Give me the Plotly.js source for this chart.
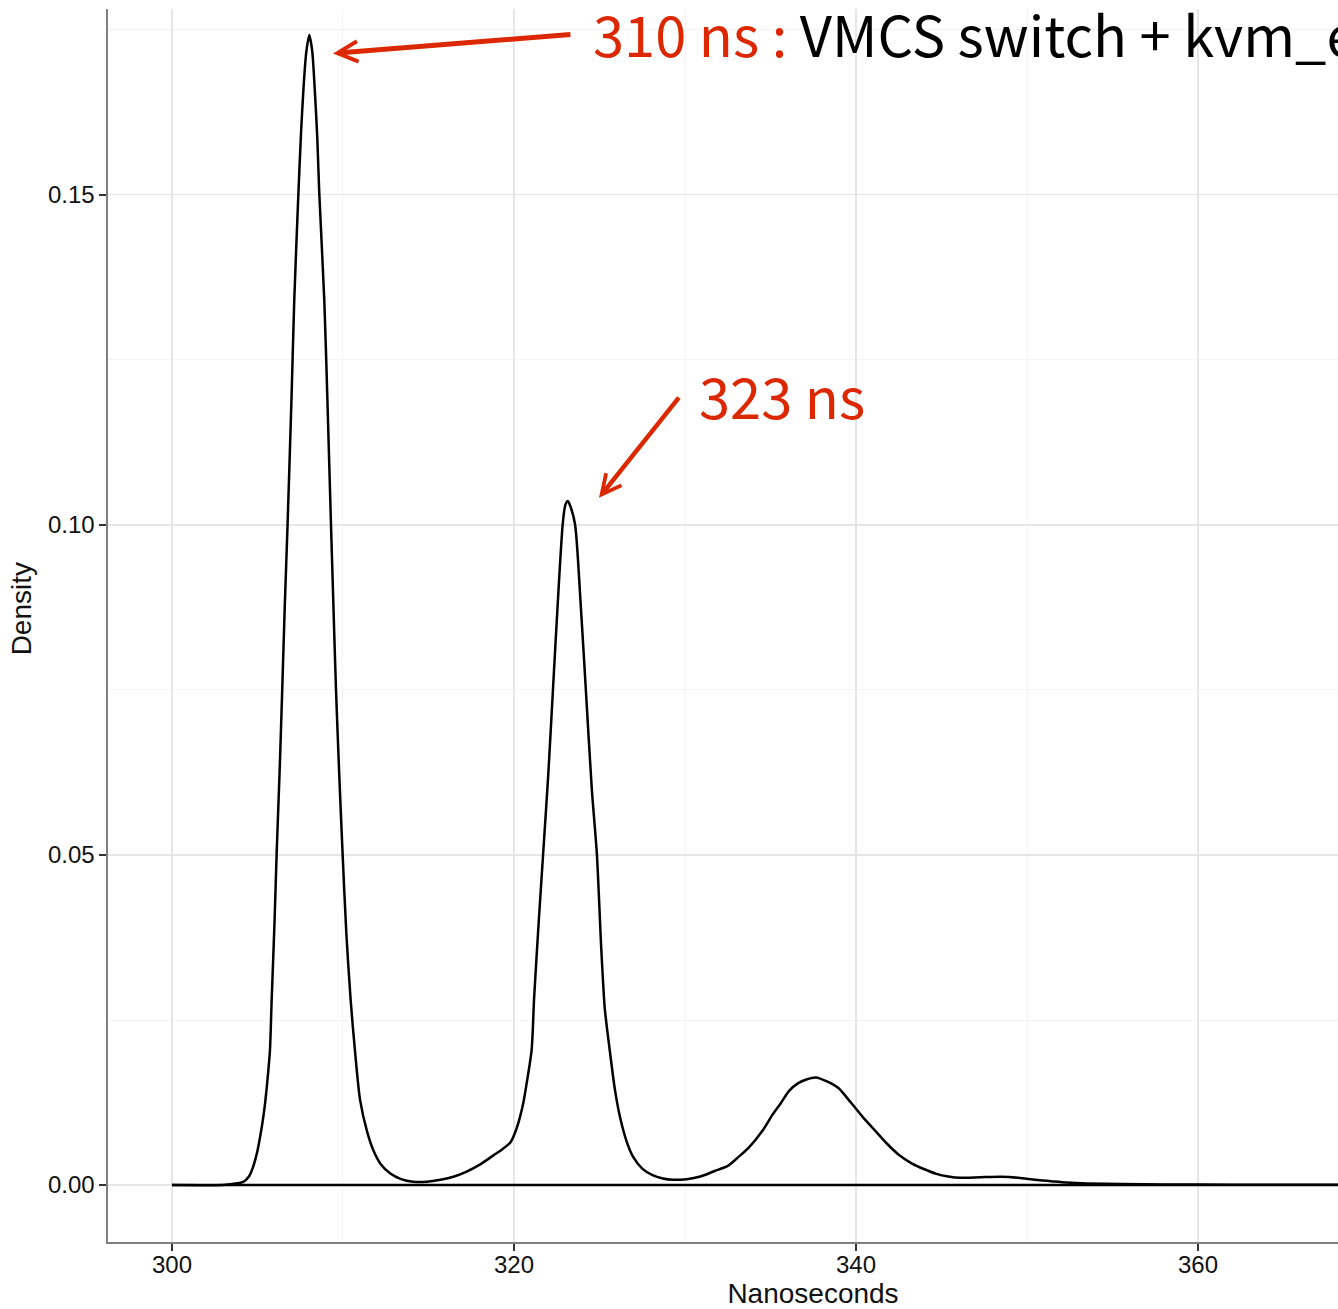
<!DOCTYPE html>
<html>
<head>
<meta charset="utf-8">
<script src="https://cdn.plot.ly/plotly-3.0.1.min.js"></script>
<style>
html, body { margin: 0; padding: 0; overflow: hidden; background: #fff; }
#wrap { width: 1338px; height: 1309px; overflow: hidden; position: relative; }
#chart { width: 1520px; height: 1309px; }
</style>
</head>
<body>
<div id="wrap"><div id="chart"></div></div>
<script>
// Density estimate (x in nanoseconds, y = density)
const xNs = [
  300.0, 303.0, 303.6, 304.17, 304.5, 304.75, 305.0, 305.2, 305.34, 305.45,
  305.55, 305.63, 305.73, 305.83, 306.0, 306.12, 306.3, 306.45, 306.6, 306.76,
  307.0, 307.15, 307.39, 307.55, 307.7, 307.85, 308.03, 308.2, 308.36, 308.5,
  308.61, 308.91, 309.1, 309.3, 309.45, 309.59, 309.8, 309.98, 310.2, 310.45,
  310.7, 311.0, 311.4, 311.77, 312.2, 312.75, 313.4, 314.1, 314.9, 315.7,
  316.5, 317.2, 318.0, 318.8, 319.3, 319.8, 320.1, 320.35, 320.55, 320.74,
  320.9, 321.03, 321.1, 321.17, 321.45, 321.7, 322.0, 322.28, 322.6, 322.85,
  323.0, 323.15, 323.3, 323.57, 323.9, 324.2, 324.55, 324.85, 325.1, 325.3,
  325.45, 325.6, 325.9, 326.2, 326.6, 326.96, 327.5, 328.1, 328.7, 329.3,
  330.1, 330.9, 331.7, 332.5, 333.1, 333.7, 334.6, 335.1, 335.6, 336.1,
  336.6, 337.1, 337.66, 338.3, 338.97, 339.7, 340.4, 341.1, 341.8, 342.5,
  343.25, 344.0, 344.7, 345.4, 346.1, 347.3, 348.5, 349.5, 350.5, 351.4,
  352.3, 353.5, 355.5, 358.0, 362.0, 366.0, 372.0, 378.7
];
const density = [
  0.0, 0.00002, 0.0002, 0.0005, 0.0013, 0.0028, 0.0052, 0.0080, 0.0103, 0.0125,
  0.0150, 0.0172, 0.0204, 0.028, 0.040, 0.0501, 0.063, 0.0752, 0.088, 0.1000,
  0.120, 0.1339, 0.150, 0.1595, 0.1665, 0.1715, 0.1742, 0.1718, 0.1655, 0.1585,
  0.1505, 0.1339, 0.118, 0.100, 0.087, 0.0752, 0.061, 0.0501, 0.038, 0.028,
  0.0204, 0.0129, 0.0082, 0.0053, 0.0032, 0.0018, 0.0009, 0.0005, 0.0005, 0.0008,
  0.0013, 0.0020, 0.0031, 0.0045, 0.0054, 0.0065, 0.0082, 0.0103, 0.0125, 0.0154,
  0.0180, 0.0204, 0.0235, 0.028, 0.040, 0.050, 0.062, 0.0751, 0.090, 0.1001,
  0.1030, 0.1036, 0.1028, 0.1001, 0.088, 0.0751, 0.060, 0.050, 0.036, 0.027,
  0.0235, 0.0204, 0.0145, 0.0103, 0.0065, 0.0043, 0.0025, 0.0015, 0.0010, 0.0008,
  0.0009, 0.0013, 0.0021, 0.0029, 0.0042, 0.0056, 0.0085, 0.0106, 0.0124, 0.0143,
  0.0154, 0.0160, 0.0163, 0.0157, 0.0147, 0.0125, 0.0103, 0.0083, 0.0063, 0.0046,
  0.0033, 0.0024, 0.0017, 0.0013, 0.0011, 0.0012, 0.00126, 0.0011, 0.0008, 0.0006,
  0.0004, 0.00025, 0.00015, 0.0001, 0.00007, 0.00005, 0.00003, 0.0
];
const yTicks = [0, 0.05, 0.10, 0.15];
const yTickLabels = ["0.00", "0.05", "0.10", "0.15"];
const xTicks = [300, 320, 340, 360];
const xTickLabels = ["300", "320", "340", "360"];

const red = "#dc2800";
const labelFont = "'Noto Sans CJK KR', 'Noto Sans', sans-serif";

const curve = {
  x: xNs, y: density, type: "scatter", mode: "lines",
  line: { color: "#000", width: 2.5, shape: "spline", smoothing: 0.7 },
  hoverinfo: "skip", showlegend: false
};
const baseline = {
  x: [xNs[0], xNs[xNs.length - 1]], y: [0, 0], type: "scatter", mode: "lines",
  line: { color: "#000", width: 2.5 }, hoverinfo: "skip", showlegend: false
};

const axisFont = { family: "'Liberation Sans', Arial, sans-serif", size: 24, color: "#111" };
const titleFont = { family: "'Liberation Sans', Arial, sans-serif", size: 28, color: "#111" };

const layout = {
  width: 1520, height: 1309,
  margin: { l: 108, r: 2, t: 9, b: 67 },
  paper_bgcolor: "#fff", plot_bgcolor: "#fff",
  showlegend: false,
  xaxis: {
    range: [296.26, 378.71],
    tickvals: xTicks, ticktext: xTickLabels,
    showgrid: true, gridcolor: "#e6e6e6", gridwidth: 1.3,
    minor: { dtick: 10, tick0: 300, showgrid: true, gridcolor: "#f4f4f4", gridwidth: 1, ticks: "" },
    zeroline: false, showline: true, linecolor: "#808080", linewidth: 1.6,
    ticks: "outside", ticklen: 7, tickwidth: 2, tickcolor: "#333",
    ticklabelstandoff: -6,
    tickfont: axisFont,
    title: { text: "Nanoseconds", font: titleFont, standoff: 6 }
  },
  yaxis: {
    range: [-0.00862, 0.17814],
    tickvals: yTicks, ticktext: yTickLabels,
    showgrid: true, gridcolor: "#e6e6e6", gridwidth: 1.3,
    minor: { dtick: 0.025, tick0: 0, showgrid: true, gridcolor: "#f4f4f4", gridwidth: 1, ticks: "" },
    zeroline: false, showline: true, linecolor: "#808080", linewidth: 1.6,
    ticks: "outside", ticklen: 7, tickwidth: 2, tickcolor: "#333",
    tickfont: axisFont,
    title: { text: "" }
  },
  annotations: [
    { // y-axis title, placed as in the reference
      xref: "paper", yref: "paper", x: -0.0735, xanchor: "left",
      y: 0.5138, yanchor: "middle", textangle: -90, showarrow: false,
      text: "Density", font: titleFont
    },
    { // arrow to first peak
      x: 309.42, y: 0.1714, ax: 323.39, ay: 0.1743, xref: "x", yref: "y", axref: "x", ayref: "y",
      text: "", showarrow: true, arrowhead: 5, arrowsize: 0.8, arrowwidth: 5, arrowcolor: red
    },
    {
      x: 324.5, y: 0.1746, xref: "x", yref: "y", xanchor: "left", yanchor: "middle",
      showarrow: false,
      text: "<span style='color:" + red + "'>310 ns :</span> VMCS switch + kvm_entry",
      font: { family: labelFont, size: 56, color: "#000" }
    },
    { // arrow to second peak
      x: 324.97, y: 0.1041, ax: 329.71, ay: 0.1195, xref: "x", yref: "y", axref: "x", ayref: "y",
      text: "", showarrow: true, arrowhead: 5, arrowsize: 0.85, arrowwidth: 4.5, arrowcolor: red
    },
    {
      x: 330.7, y: 0.1198, xref: "x", yref: "y", xanchor: "left", yanchor: "middle",
      showarrow: false, text: "323 ns",
      font: { family: labelFont, size: 56, color: red }
    }
  ]
};

Plotly.newPlot("chart", [baseline, curve], layout, { displayModeBar: false, staticPlot: true });
</script>
</body>
</html>
